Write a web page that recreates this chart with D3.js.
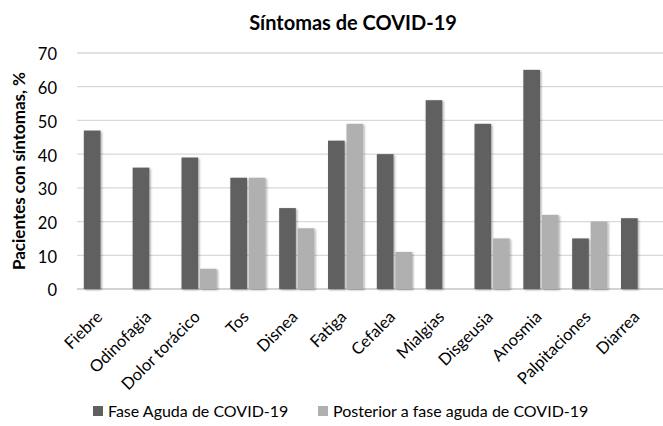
<!DOCTYPE html>
<html>
<head>
<meta charset="utf-8">
<script src="https://cdn.jsdelivr.net/npm/d3@7"></script>
<style>
    body { margin: 0; background: #fff; }
    text { font-family: Lato, "Open Sans", sans-serif; fill: #000; }
</style>
</head>
<body>
<div id="chart"></div>
<script>

// Data
var categorias = ["Fiebre", "Odinofagia", "Dolor torácico", "Tos", "Disnea", "Fatiga",
    "Cefalea", "Mialgias", "Disgeusia", "Anosmia", "Palpitaciones", "Diarrea"];
var faseAguda = [47, 36, 39, 33, 24, 44, 40, 56, 49, 65, 15, 21];
var posterior = [0, 0, 6, 33, 18, 49, 11, 0, 15, 22, 20, 0];
var series = ["Fase Aguda de COVID-19", "Posterior a fase aguda de COVID-19"];
var yTicks = [0, 10, 20, 30, 40, 50, 60, 70];

var colores = ["#606060", "#b0b0b0"];

barChart();

function barChart() {
    var W = 663, H = 426;
    var margin = { top: 53, right: 0, bottom: 137, left: 77 },
        width = W - margin.left - margin.right,
        height = H - margin.top - margin.bottom;

    var svg = d3.select("#chart").append("svg")
        .attr("width", W)
        .attr("height", H);

    // soft shadow like the office chart
    var filt = svg.append("defs").append("filter")
        .attr("id", "sombra")
        .attr("x", "-30%").attr("y", "-10%")
        .attr("width", "160%").attr("height", "130%");
    filt.append("feDropShadow")
        .attr("dx", 1.2).attr("dy", 1)
        .attr("stdDeviation", 1.2)
        .attr("flood-color", "#000")
        .attr("flood-opacity", 0.35);

    var g = svg.append("g")
        .attr("transform", "translate(" + margin.left + "," + margin.top + ")");

    // scales
    var x0 = d3.scaleBand()
        .domain(categorias)
        .range([0, width])
        .paddingInner(0.28)
        .paddingOuter(0.14);

    var x1 = d3.scaleBand()
        .domain([0, 1])
        .range([0, x0.bandwidth()])
        .paddingInner(0.1);

    var y = d3.scaleLinear()
        .domain([0, 70])
        .range([height, 0]);

    // gridlines
    g.append("g")
        .selectAll("line")
        .data(yTicks)
        .enter().append("line")
        .attr("x1", 0)
        .attr("x2", width)
        .attr("y1", function(d) { return y(d); })
        .attr("y2", function(d) { return y(d); })
        .style("stroke", function(d) { return d === 0 ? "#c4c4c4" : "#d9d9d9"; })
        .style("stroke-width", 1.3);

    // y axis labels
    var yAxis = g.append("g")
        .call(d3.axisLeft(y).tickValues(yTicks).tickSize(0).tickPadding(20));
    yAxis.select(".domain").remove();
    yAxis.selectAll("text")
        .style("font-size", "16.5px")
        .style("font-family", "Lato, sans-serif")
        .attr("dy", "0.42em")
        .attr("fill", "#111");

    // bars
    var datos = [faseAguda, posterior];
    var grupos = g.selectAll(".serie")
        .data(datos)
        .enter().append("g")
        .attr("class", "serie")
        .style("fill", function(d, i) { return colores[i]; });

    grupos.selectAll("rect")
        .data(function(d, i) {
            return d.map(function(v, j) { return { s: i, cat: categorias[j], v: v }; })
                .filter(function(e) { return e.v > 0; });
        })
        .enter().append("rect")
        .attr("x", function(d) { return x0(d.cat) + x1(d.s); })
        .attr("width", x1.bandwidth())
        .attr("y", function(d) { return y(d.v); })
        .attr("height", function(d) { return height - y(d.v); })
        .attr("filter", "url(#sombra)");

    // x axis labels, rotated 45 degrees, ending at the category centre
    g.append("g")
        .attr("class", "x axis")
        .selectAll("text")
        .data(categorias)
        .enter().append("text")
        .attr("transform", function(d) {
            return "translate(" + (x0(d) + x0.bandwidth() / 2 + 2) + "," + (height + 29) + ") rotate(-45)";
        })
        .attr("text-anchor", "end")
        .style("font-size", "16.5px")
        .attr("fill", "#111")
        .text(function(d) { return d; });

    // title
    svg.append("text")
        .attr("x", 353)
        .attr("y", 30)
        .attr("text-anchor", "middle")
        .style("font-size", "20px")
        .style("font-weight", "bold")
        .text("Síntomas de COVID-19");

    // y axis title
    svg.append("text")
        .attr("transform", "translate(25," + (margin.top + height / 2) + ") rotate(-90)")
        .attr("text-anchor", "middle")
        .style("font-size", "17px")
        .style("font-weight", "bold")
        .text("Pacientes con síntomas, %");

    // legend
    var legX = [93, 318];
    var leg = svg.selectAll(".leg")
        .data(series)
        .enter().append("g")
        .attr("class", "leg")
        .attr("transform", function(d, i) { return "translate(" + legX[i] + ",411)"; });
    leg.append("rect")
        .attr("x", 0).attr("y", -5)
        .attr("width", 10).attr("height", 10)
        .style("fill", function(d, i) { return colores[i]; });
    leg.append("text")
        .attr("x", 15)
        .attr("y", 6)
        .style("font-size", "16px")
        .text(function(d) { return d; });
}
</script>
</body>
</html>
